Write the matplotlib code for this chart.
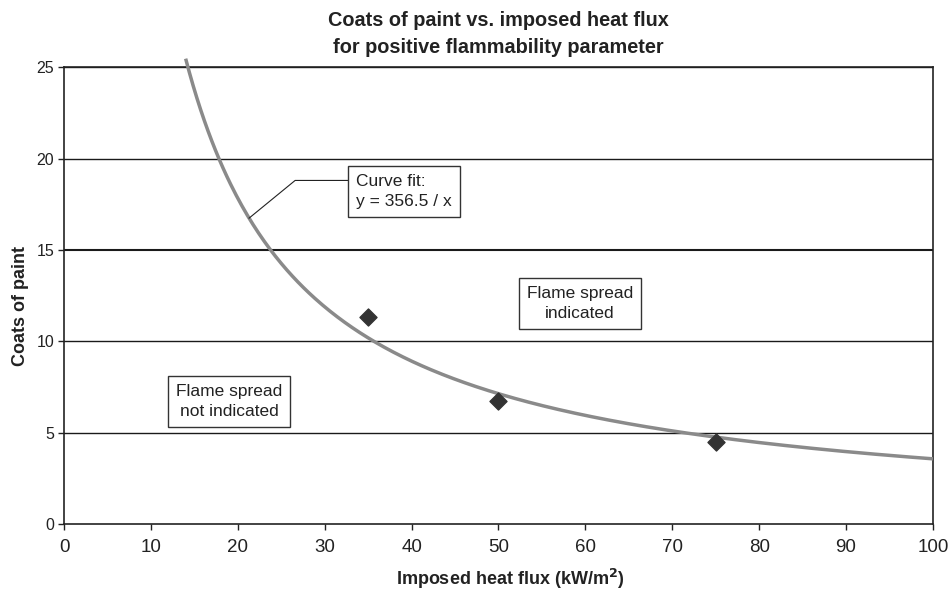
import numpy as np
import matplotlib
matplotlib.use("Agg")
import matplotlib.pyplot as plt

plt.rcParams['font.family'] = ['Liberation Sans', 'DejaVu Sans']

# measured points
heat_flux = [35, 50, 75]
coats = [11.3, 6.75, 4.5]

# fitted curve y = k / x
fit_k = 356.5
fit_x = np.linspace(14.0, 100, 400)
fit_y = fit_k / fit_x

x_ticks = [0, 10, 20, 30, 40, 50, 60, 70, 80, 90, 100]
y_ticks = [0, 5, 10, 15, 20, 25]

fig = plt.figure(figsize=(9.51, 5.89), dpi=100)
ax = fig.add_axes([0.0673, 0.1104, 0.9137, 0.7756])

for yv in y_ticks[1:]:
    ax.axhline(yv, color='#1a1a1a', lw=1.5 if yv == 15 else 1.0, zorder=1)

ax.plot(fit_x, fit_y, color='#8a8a8a', lw=2.5, clip_on=False, zorder=3,
        solid_capstyle='butt')
ax.scatter(heat_flux, coats, marker='D', s=75, color='#333333', zorder=4)

ax.set_xlim(0, 100)
ax.set_ylim(0, 25)
ax.set_xticks(x_ticks)
ax.set_yticks(y_ticks)
ax.tick_params(axis='x', labelsize=13.5, length=4, width=1, direction='out',
               colors='#222222', pad=7)
ax.tick_params(axis='y', labelsize=11.5, length=4, width=1, direction='out',
               colors='#222222', pad=3)
for side in ['left', 'bottom', 'right', 'top']:
    ax.spines[side].set_color('#222222')
    ax.spines[side].set_linewidth(1.2)

ax.set_xlabel('Imposed heat flux (kW/m$^\\mathbf{2}$)', fontsize=13,
              fontweight='bold', color='#222222', va='center')
ax.xaxis.set_label_coords(0.513, -0.120)
ax.set_ylabel('Coats of paint', fontsize=13, fontweight='bold',
              color='#222222', va='center')
ax.yaxis.set_label_coords(-0.0506, 0.477)
ax.set_title('Coats of paint vs. imposed heat flux\nfor positive flammability parameter',
             fontsize=14.3, fontweight='bold', color='#222222', pad=10.5,
             linespacing=1.52)

box = dict(boxstyle='square,pad=0.45', fc='white', ec='#333333', lw=1)

# leader from the curve to the fit label
tip_x = 21.3
elbow_x, elbow_y = 26.6, 18.8
label_x = 32.8
ax.plot([tip_x, elbow_x, label_x], [fit_k / tip_x, elbow_y, elbow_y],
        color='#222222', lw=0.8, zorder=5)
ax.text(33.6, 18.2, 'Curve fit:\ny = 356.5 / x', fontsize=12.5, color='#222222',
        ha='left', va='center', linespacing=1.4, bbox=box, zorder=6)

ax.text(59.4, 12.06, 'Flame spread\nindicated', fontsize=12.5, color='#222222',
        ha='center', va='center', linespacing=1.4, bbox=box, zorder=6)
ax.text(19.0, 6.7, 'Flame spread\nnot indicated', fontsize=12.5, color='#222222',
        ha='center', va='center', linespacing=1.4, bbox=box, zorder=6)

fig.savefig('out.png', dpi=100)
